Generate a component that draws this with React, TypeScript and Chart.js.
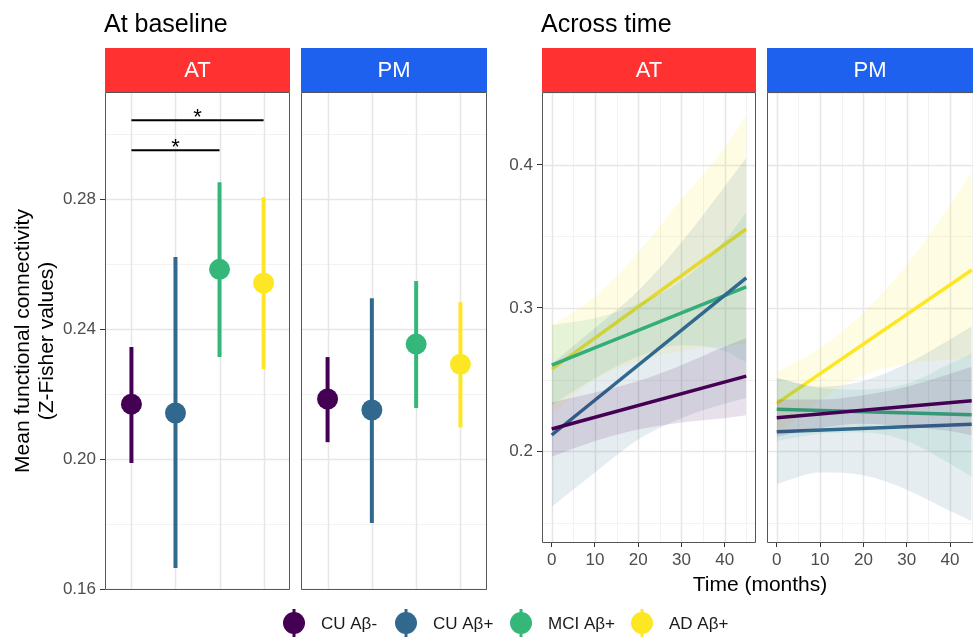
import React, { useEffect, useRef } from 'react';
import { Chart, registerables } from 'chart.js';
Chart.register(...registerables);

const FONT = '"Liberation Sans", Arial, Helvetica, sans-serif';
Chart.defaults.font.family = FONT;

// ---------- shared ----------
const groups = ['CU Aβ-', 'CU Aβ+', 'MCI Aβ+', 'AD Aβ+'];
const groupColors = ['#440154', '#31688E', '#35B779', '#FDE725'];
const categoryPos = [1, 2, 3, 4];
const panelNames = ['AT', 'PM'];
const panelColors = ['#FF3131', '#1D61EE'];

// ---------- At baseline ----------
const baseAT_mean = [0.2169, 0.2142, 0.2584, 0.2542];
const baseAT_low = [0.1988, 0.1665, 0.2314, 0.2277];
const baseAT_high = [0.2345, 0.2622, 0.2852, 0.2806];
const basePM_mean = [0.2185, 0.2151, 0.2354, 0.2292];
const basePM_low = [0.2052, 0.1803, 0.2157, 0.2098];
const basePM_high = [0.2314, 0.2495, 0.2548, 0.2483];

const bracketFrom = [1, 1];
const bracketTo = [4, 3];
const bracketY = [0.3043, 0.2951];
const bracketLabel = ['*', '*'];

const baseYTicks = [0.16, 0.2, 0.24, 0.28];
const baseYMinor = [0.18, 0.22, 0.26, 0.3];

// ---------- Across time ----------
const timePoints = [0, 10, 20, 30, 40, 45];
const lineTimes = [0, 45];
const timeAT_start = [0.2154, 0.2112, 0.26, 0.2573];
const timeAT_end = [0.2524, 0.321, 0.3147, 0.3552];
const ribbonAT_lower = [
  [0.196, 0.207, 0.215, 0.22, 0.223, 0.225],
  [0.161, 0.185, 0.208, 0.223, 0.233, 0.237],
  [0.232, 0.251, 0.266, 0.274, 0.27, 0.262],
  [0.226, 0.25, 0.263, 0.27, 0.274, 0.275],
];
const ribbonAT_upper = [
  [0.234, 0.241, 0.249, 0.26, 0.273, 0.279],
  [0.261, 0.286, 0.312, 0.346, 0.385, 0.405],
  [0.288, 0.293, 0.303, 0.319, 0.347, 0.367],
  [0.288, 0.308, 0.339, 0.376, 0.412, 0.435],
];
const timePM_start = [0.2233, 0.2135, 0.2292, 0.2333];
const timePM_end = [0.2352, 0.2187, 0.2254, 0.3266];
const ribbonPM_lower = [
  [0.21, 0.216, 0.219, 0.217, 0.214, 0.211],
  [0.177, 0.185, 0.183, 0.173, 0.158, 0.151],
  [0.207, 0.212, 0.213, 0.207, 0.191, 0.182],
  [0.211, 0.236, 0.253, 0.261, 0.264, 0.265],
];
const ribbonPM_upper = [
  [0.236, 0.236, 0.239, 0.245, 0.254, 0.259],
  [0.251, 0.245, 0.249, 0.261, 0.278, 0.287],
  [0.251, 0.244, 0.243, 0.247, 0.261, 0.268],
  [0.255, 0.272, 0.297, 0.33, 0.372, 0.395],
];
const drawOrder = [3, 2, 1, 0]; // AD drawn first, CU Aβ- last

const timeXTicks = [0, 10, 20, 30, 40];
const timeXMinor = [5, 15, 25, 35, 45];
const timeYTicks = [0.2, 0.3, 0.4];
const timeYMinor = [0.15, 0.25, 0.35, 0.45];

// ---------- helpers ----------
function rgba(hex: string, a: number) {
  const n = parseInt(hex.slice(1), 16);
  return `rgba(${(n >> 16) & 255},${(n >> 8) & 255},${n & 255},${a})`;
}

const STRIP_TOP = 48;

function panelPlugin(
  id: string,
  strip: string,
  stripColor: string,
  xMajor: number[],
  xMinor: number[],
  yMajor: number[],
  yMinor: number[],
  skipRight = false
) {
  return {
    id,
    beforeDatasetsDraw(chart: any) {
      const { ctx, chartArea: a, scales } = chart;
      const x = scales.x;
      const y = scales.y;
      ctx.save();
      ctx.beginPath();
      ctx.rect(a.left, a.top, a.right - a.left, a.bottom - a.top);
      ctx.clip();
      const vline = (v: number, c: string, w: number) => {
        const p = Math.round(x.getPixelForValue(v)) + 0.5;
        ctx.strokeStyle = c;
        ctx.lineWidth = w;
        ctx.beginPath();
        ctx.moveTo(p, a.top);
        ctx.lineTo(p, a.bottom);
        ctx.stroke();
      };
      const hline = (v: number, c: string, w: number) => {
        const p = Math.round(y.getPixelForValue(v)) + 0.5;
        ctx.strokeStyle = c;
        ctx.lineWidth = w;
        ctx.beginPath();
        ctx.moveTo(a.left, p);
        ctx.lineTo(a.right, p);
        ctx.stroke();
      };
      xMinor.forEach((v) => vline(v, '#F2F2F2', 1));
      yMinor.forEach((v) => hline(v, '#F2F2F2', 1));
      xMajor.forEach((v) => vline(v, '#E6E6E6', 1.5));
      yMajor.forEach((v) => hline(v, '#E6E6E6', 1.5));
      ctx.restore();
    },
    afterDraw(chart: any) {
      const { ctx, chartArea: a } = chart;
      ctx.save();
      // strip
      ctx.fillStyle = stripColor;
      ctx.fillRect(a.left, STRIP_TOP, a.right - a.left, a.top - STRIP_TOP);
      ctx.fillStyle = '#FFFFFF';
      ctx.font = `22px ${FONT}`;
      ctx.textAlign = 'center';
      ctx.textBaseline = 'middle';
      ctx.fillText(strip, (a.left + a.right) / 2, (STRIP_TOP + a.top) / 2 + 1);
      // border
      ctx.strokeStyle = '#555555';
      ctx.lineWidth = 1;
      const l = a.left + 0.5, t = a.top + 0.5, r = a.right - 0.5, b = a.bottom - 0.5;
      ctx.beginPath();
      if (skipRight) {
        ctx.moveTo(a.right + 2, t);
        ctx.lineTo(l, t);
        ctx.lineTo(l, b);
        ctx.lineTo(a.right + 2, b);
      } else {
        ctx.rect(l, t, r - l, b - t);
      }
      ctx.stroke();
      ctx.restore();
    },
  };
}

const tickFont = { family: FONT, size: 17 };

function baselineDatasets(mean: number[], low: number[], high: number[], withBrackets: boolean) {
  const ds: any[] = [];
  groups.forEach((g, i) => {
    ds.push({
      label: g + ' range',
      data: [
        { x: categoryPos[i], y: low[i] },
        { x: categoryPos[i], y: high[i] },
      ],
      borderColor: groupColors[i],
      borderWidth: 4,
      borderCapStyle: 'butt',
      pointRadius: 0,
      showLine: true,
    });
    ds.push({
      label: g,
      data: [{ x: categoryPos[i], y: mean[i] }],
      showLine: false,
      pointRadius: 10.5,
      pointHoverRadius: 10.5,
      pointBackgroundColor: groupColors[i],
      pointBorderWidth: 0,
      borderColor: groupColors[i],
      backgroundColor: groupColors[i],
    });
  });
  if (withBrackets) {
    bracketFrom.forEach((f, i) => {
      ds.push({
        label: 'bracket' + i,
        data: [
          { x: f, y: bracketY[i] },
          { x: bracketTo[i], y: bracketY[i] },
        ],
        borderColor: '#000000',
        borderWidth: 2,
        pointRadius: 0,
        showLine: true,
      });
    });
  }
  return ds;
}

function timeDatasets(start: number[], end: number[], lower: number[][], upper: number[][]) {
  const ds: any[] = [];
  drawOrder.forEach((gi) => {
    const lowIdx = ds.length;
    ds.push({
      label: groups[gi] + ' lower',
      data: timePoints.map((t, k) => ({ x: t, y: lower[gi][k] })),
      borderColor: 'transparent',
      borderWidth: 0,
      pointRadius: 0,
      tension: 0.4,
      cubicInterpolationMode: 'monotone',
      fill: false,
    });
    ds.push({
      label: groups[gi] + ' upper',
      data: timePoints.map((t, k) => ({ x: t, y: upper[gi][k] })),
      borderColor: 'transparent',
      borderWidth: 0,
      pointRadius: 0,
      tension: 0.4,
      cubicInterpolationMode: 'monotone',
      fill: lowIdx,
      backgroundColor: rgba(groupColors[gi], 0.12),
    });
    ds.push({
      label: groups[gi],
      data: [
        { x: lineTimes[0], y: start[gi] },
        { x: lineTimes[1], y: end[gi] },
      ],
      borderColor: groupColors[gi],
      borderWidth: 3.5,
      pointRadius: 0,
      fill: false,
    });
  });
  const n = ds.length;
  ds.forEach((d, i) => (d.order = n - i));
  return ds;
}

const commonOptions = {
  responsive: false,
  animation: false as const,
  events: [] as any[],
  plugins: { legend: { display: false }, tooltip: { enabled: false } },
};

const globalTextPlugin = {
  id: 'globalText',
  afterDraw(chart: any) {
    const ctx = chart.ctx;
    ctx.save();
    ctx.fillStyle = '#000000';
    ctx.font = `25px ${FONT}`;
    ctx.textAlign = 'left';
    ctx.textBaseline = 'alphabetic';
    ctx.fillText('At baseline', 104, 32);
    ctx.fillText('Across time', 541, 32);
    // y-axis title
    ctx.font = `21px ${FONT}`;
    ctx.textAlign = 'center';
    ctx.textBaseline = 'middle';
    ctx.save();
    ctx.translate(23, 341);
    ctx.rotate(-Math.PI / 2);
    ctx.fillText('Mean functional connectivity', 0, 0);
    ctx.restore();
    ctx.save();
    ctx.translate(47, 341);
    ctx.rotate(-Math.PI / 2);
    ctx.fillText('(Z-Fisher values)', 0, 0);
    ctx.restore();
    // x-axis title
    ctx.fillText('Time (months)', 760, 585);
    // legend
    const keyX = [294, 406, 521, 642];
    const cy = 623;
    groups.forEach((g, i) => {
      ctx.strokeStyle = groupColors[i];
      ctx.lineWidth = 3;
      ctx.beginPath();
      ctx.moveTo(keyX[i], cy - 14);
      ctx.lineTo(keyX[i], cy + 14);
      ctx.stroke();
      ctx.fillStyle = groupColors[i];
      ctx.beginPath();
      ctx.arc(keyX[i], cy, 11, 0, Math.PI * 2);
      ctx.fill();
      ctx.fillStyle = '#1A1A1A';
      ctx.font = `17px ${FONT}`;
      ctx.textAlign = 'left';
      ctx.fillText(g, keyX[i] + 27, cy + 1);
    });
    ctx.restore();
  },
};

const starPlugin = {
  id: 'stars',
  afterDatasetsDraw(chart: any) {
    const { ctx, scales } = chart;
    ctx.save();
    ctx.fillStyle = '#000000';
    ctx.font = `22px ${FONT}`;
    ctx.textAlign = 'center';
    ctx.textBaseline = 'alphabetic';
    bracketLabel.forEach((lab, i) => {
      const x = scales.x.getPixelForValue((bracketFrom[i] + bracketTo[i]) / 2);
      const y = scales.y.getPixelForValue(bracketY[i]);
      ctx.fillText(lab, x, y + 4);
    });
    ctx.restore();
  },
};

function makeBaseline(which: number): any {
  const isAT = which === 0;
  const padLeft = isAT ? 55 : 301;
  const right = isAT ? 290 : 487;
  return {
    type: 'line',
    data: {
      datasets: isAT
        ? baselineDatasets(baseAT_mean, baseAT_low, baseAT_high, true)
        : baselineDatasets(basePM_mean, basePM_low, basePM_high, false),
    },
    options: {
      ...commonOptions,
      layout: { padding: { left: padLeft, right: 973 - right, top: 92, bottom: 47 } },
      scales: {
        x: { type: 'linear', min: 0.4, max: 4.6, display: false },
        y: {
          type: 'linear',
          min: 0.1597,
          max: 0.313,
          display: isAT,
          afterFit: (s: any) => {
            s.width = isAT ? 50 : 0;
          },
          afterBuildTicks: (s: any) => {
            s.ticks = baseYTicks.map((v) => ({ value: v }));
          },
          grid: { drawOnChartArea: false, drawTicks: true, tickLength: 5, color: '#333333', lineWidth: 1 },
          border: { display: false },
          ticks: { font: tickFont, color: '#4D4D4D', padding: 4, callback: (v: any) => Number(v).toFixed(2) },
        },
      },
    },
    plugins: [
      panelPlugin('panelB' + which, panelNames[which], panelColors[which], categoryPos, [], baseYTicks, baseYMinor),
      ...(isAT ? [starPlugin, globalTextPlugin] : []),
    ],
  };
}

function makeTime(which: number): any {
  const isAT = which === 0;
  return {
    type: 'line',
    data: {
      datasets: isAT
        ? timeDatasets(timeAT_start, timeAT_end, ribbonAT_lower, ribbonAT_upper)
        : timeDatasets(timePM_start, timePM_end, ribbonPM_lower, ribbonPM_upper),
    },
    options: {
      ...commonOptions,
      layout: { padding: { left: isAT ? 502 : 767, right: isAT ? 973 - 756 : 0, top: 92, bottom: 64 } },
      plugins: { ...commonOptions.plugins, filler: { drawTime: 'beforeDatasetDraw' } },
      scales: {
        x: {
          type: 'linear',
          min: -2.25,
          max: isAT ? 47.25 : 45.3,
          afterFit: (s: any) => {
            s.height = 30;
          },
          afterBuildTicks: (s: any) => {
            s.ticks = timeXTicks.map((v) => ({ value: v }));
          },
          grid: { drawOnChartArea: false, drawTicks: true, tickLength: 4, color: '#333333', lineWidth: 1 },
          border: { display: false },
          ticks: { font: tickFont, color: '#4D4D4D', padding: 3, maxRotation: 0, autoSkip: false, callback: (v: any) => String(v) },
        },
        y: {
          type: 'linear',
          min: 0.1357,
          max: 0.451,
          display: isAT,
          afterFit: (s: any) => {
            s.width = isAT ? 40 : 0;
          },
          afterBuildTicks: (s: any) => {
            s.ticks = timeYTicks.map((v) => ({ value: v }));
          },
          grid: { drawOnChartArea: false, drawTicks: true, tickLength: 5, color: '#333333', lineWidth: 1 },
          border: { display: false },
          ticks: { font: tickFont, color: '#4D4D4D', padding: 4, callback: (v: any) => Number(v).toFixed(1) },
        },
      },
    },
    plugins: [panelPlugin('panelT' + which, panelNames[which], panelColors[which], timeXTicks, timeXMinor, timeYTicks, timeYMinor, !isAT)],
  };
}

export default function App() {
  const r1 = useRef<HTMLCanvasElement>(null);
  const r2 = useRef<HTMLCanvasElement>(null);
  const r3 = useRef<HTMLCanvasElement>(null);
  const r4 = useRef<HTMLCanvasElement>(null);

  useEffect(() => {
    const charts = [
      new Chart(r1.current as HTMLCanvasElement, makeBaseline(0)),
      new Chart(r2.current as HTMLCanvasElement, makeBaseline(1)),
      new Chart(r3.current as HTMLCanvasElement, makeTime(0)),
      new Chart(r4.current as HTMLCanvasElement, makeTime(1)),
    ];
    return () => charts.forEach((c) => c.destroy());
  }, []);

  const cs: React.CSSProperties = { position: 'absolute', left: 0, top: 0 };
  return (
    <div style={{ position: 'fixed', left: 0, top: 0, width: 973, height: 637, background: '#FFFFFF', overflow: 'hidden' }}>
      <canvas ref={r1} width={973} height={637} style={cs} />
      <canvas ref={r2} width={973} height={637} style={cs} />
      <canvas ref={r3} width={973} height={637} style={cs} />
      <canvas ref={r4} width={973} height={637} style={cs} />
    </div>
  );
}
